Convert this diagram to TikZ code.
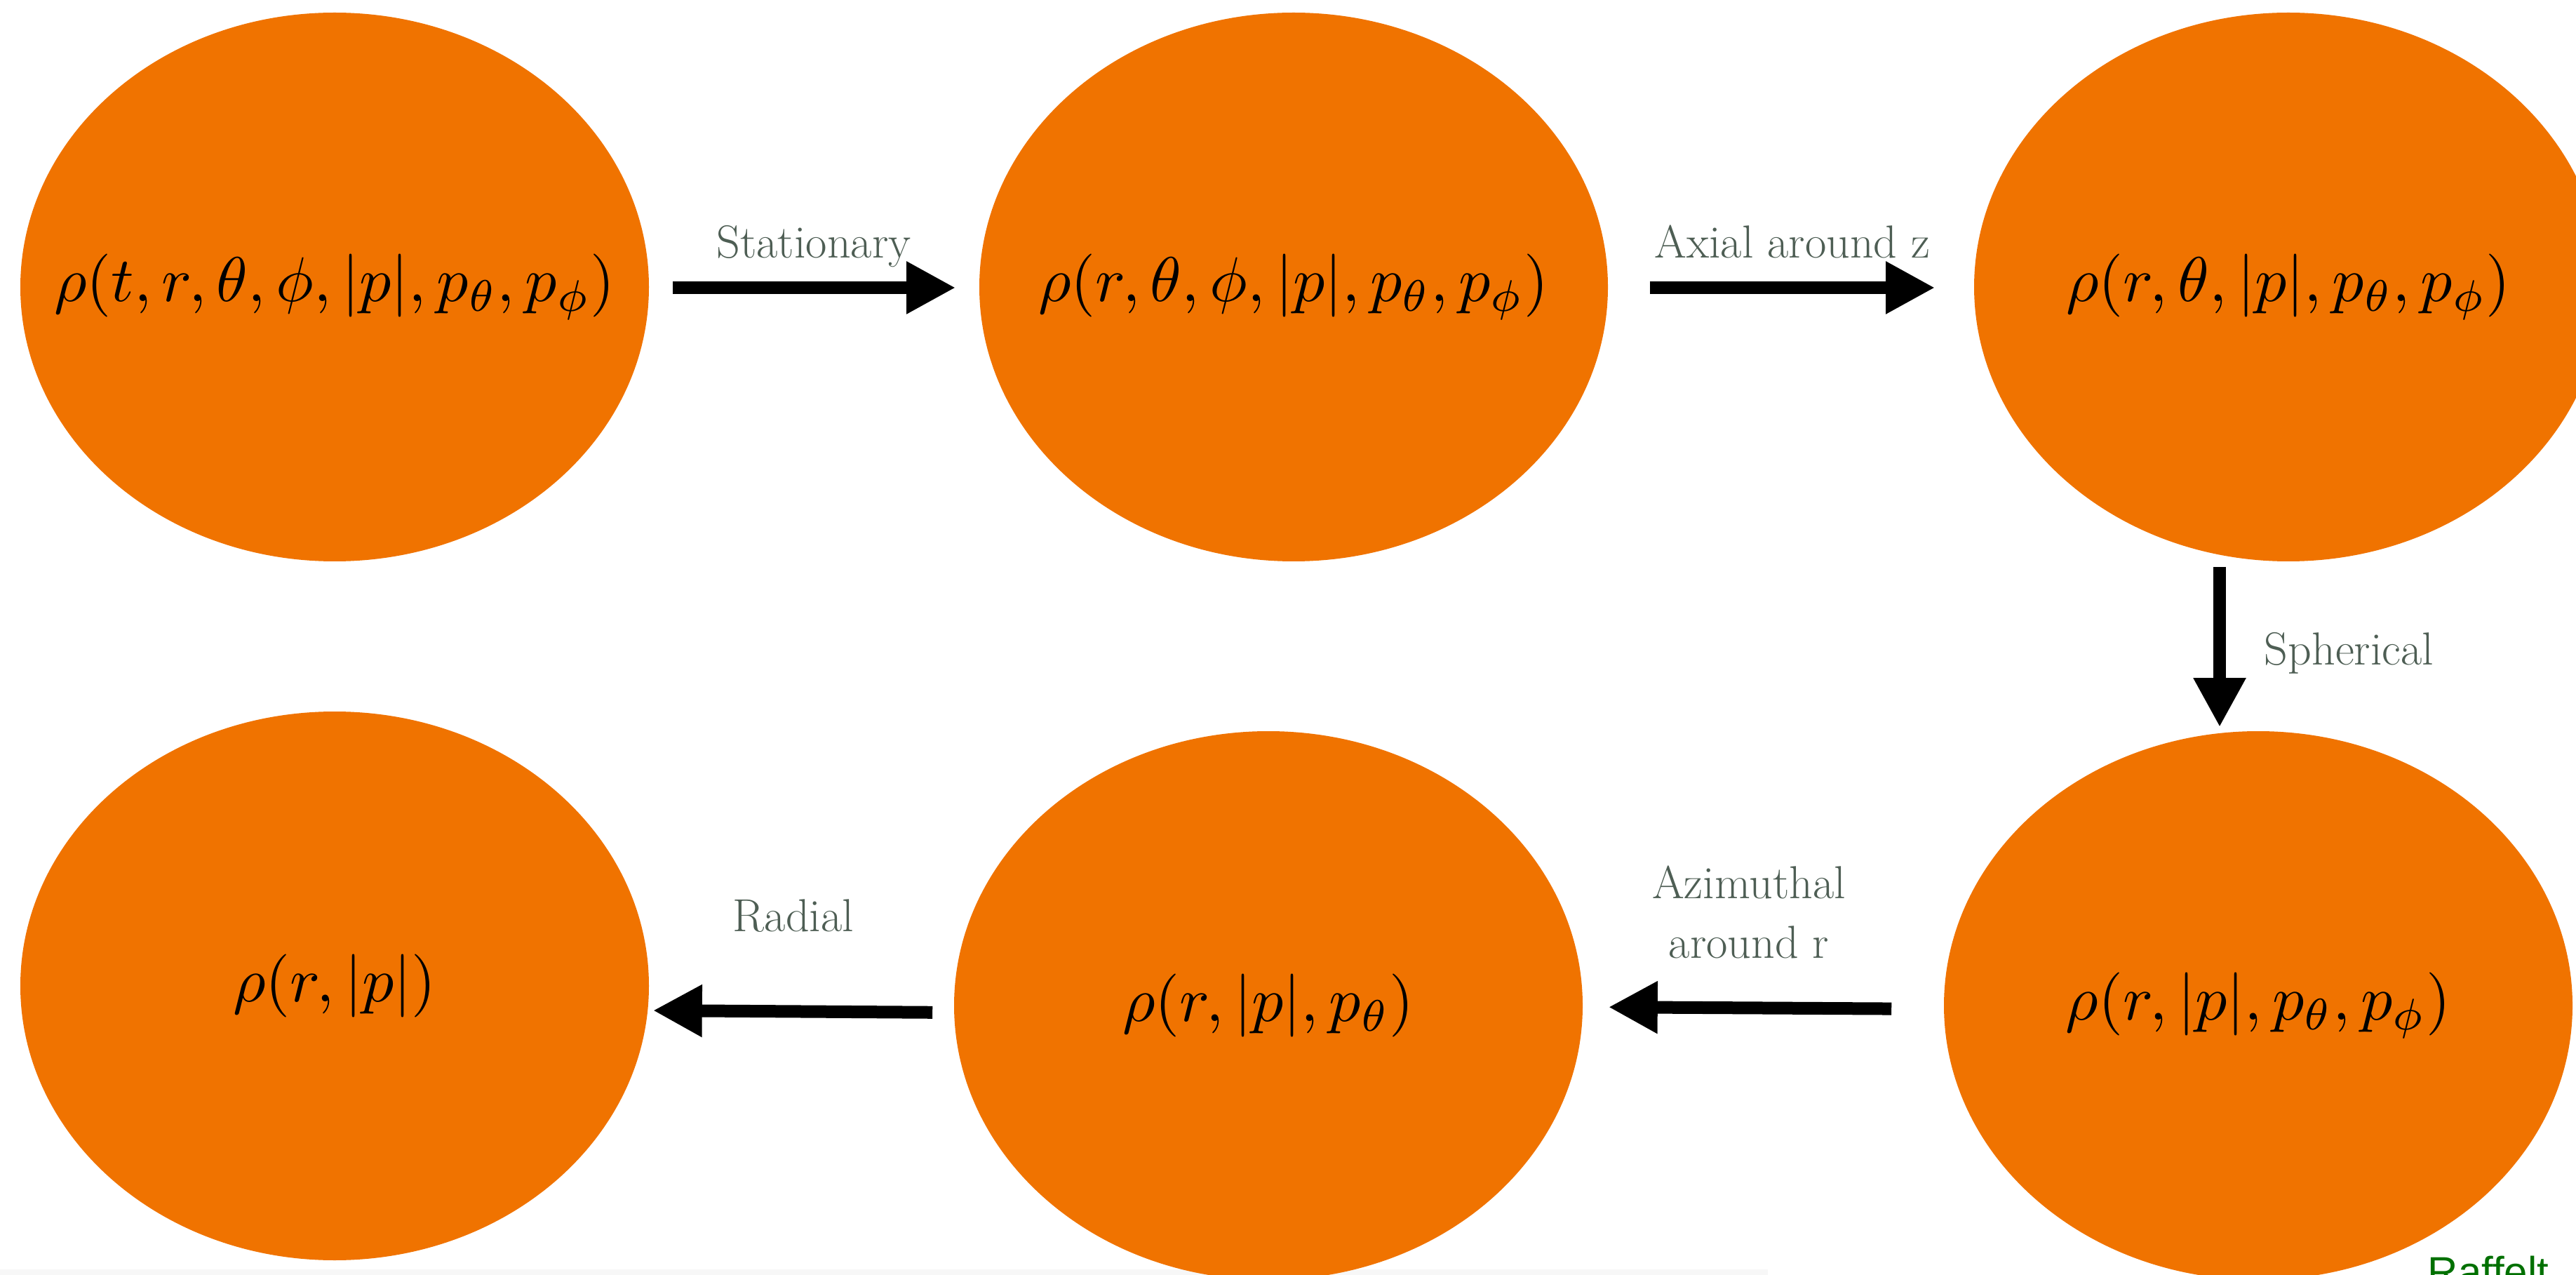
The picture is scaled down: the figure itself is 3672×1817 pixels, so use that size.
\documentclass[tikz,border=0pt]{standalone}
\usepackage{fontspec}
\newfontfamily\raffont{Liberation Sans}
\usetikzlibrary{shapes.geometric,arrows.meta,calc}
\definecolor{blobor}{RGB}{240,115,0}
\definecolor{lblcol}{RGB}{78,94,84}
\definecolor{raffgreen}{RGB}{0,112,0}
\newcommand{\bigmath}[1]{\scalebox{2.25}{$#1$}}
\tikzset{
  blob/.style={ellipse, fill=blobor, draw=none, inner sep=0pt,
    minimum width=224pt, minimum height=195.5pt},
  mtext/.style={inner sep=0pt, text=black},
  lbl/.style={inner sep=0pt, text=lblcol, font=\fontsize{16.5}{21.25}\selectfont},
  arr/.style={draw=black, line width=4.5pt, line cap=butt,
    -{Triangle[length=17.5pt,width=17.5pt]}}
}
\begin{document}
\begin{tikzpicture}[x=0.25pt,y=-0.25pt]
\useasboundingbox (0,0) rectangle (3672,1817);
\clip (0,0) rectangle (3672,1817);
\fill[black!3] (0,1809) rectangle (2520,1817);
% ellipses
\node[blob] (e1) at (477,409) {};
\node[blob] (e2) at (1844,409) {};
\node[blob] (e3) at (3262,409) {};
\node[blob] (e4) at (477,1405) {};
\node[blob] (e5) at (1808,1433) {};
\node[blob] (e6) at (3219,1433) {};
% math texts
\node[mtext] (t1) at (e1) {\bigmath{\rho(t,r,\theta,\phi,|p|,p_\theta,p_\phi)}};
\node[mtext] (t2) at (e2) {\bigmath{\rho(r,\theta,\phi,|p|,p_\theta,p_\phi)}};
\node[mtext] (t3) at (e3) {\bigmath{\rho(r,\theta,|p|,p_\theta,p_\phi)}};
\node[mtext] (t4) at (e4) {\bigmath{\rho(r,|p|)}};
\node[mtext] (t5) at (e5) {\bigmath{\rho(r,|p|,p_\theta)}};
\node[mtext] (t6) at (e6) {\bigmath{\rho(r,|p|,p_\theta,p_\phi)}};
% arrows
\draw[arr, shorten <=8.25pt, shorten >=8.25pt] ($(e1.east)+(0,1)$) -- ($(e2.west)+(0,1)$);
\draw[arr, shorten <=14.75pt, shorten >=13.75pt] ($(e2.east)+(0,1)$) -- ($(e3.west)+(0,1)$);
\draw[arr, shorten <=1.75pt, shorten >=1.25pt] ($(e3.south)+(-98,0)$) -- ($(e6.north)+(-55,0)$);
\draw[arr, shorten <=18.5pt, shorten >=9pt] ($(e6.west)+(0,5)$) -- ($(e5.east)+(0,2)$);
\draw[arr, shorten <=7.5pt, shorten >=1.25pt] ($(e5.west)+(0,10)$) -- ($(e4.east)+(0,35)$);
% labels
\node[lbl, anchor=base] (l1) at (1160,368) {Stationary};
\node[lbl, anchor=base] (l2) at (2555,368) {Axial around z};
\node[lbl, anchor=base west] (l3) at (3227,947) {Spherical};
\node[lbl, align=center, anchor=center] (l4) at (2493,1300) {Azimuthal\\around r};
\node[lbl, anchor=base] (l5) at (1131,1327) {Radial};
\node[inner sep=0pt, anchor=base west, text=raffgreen, font=\raffont\fontsize{15}{18}\selectfont] (rf) at (3460,1833) {Raffelt};
\end{tikzpicture}
\end{document}
